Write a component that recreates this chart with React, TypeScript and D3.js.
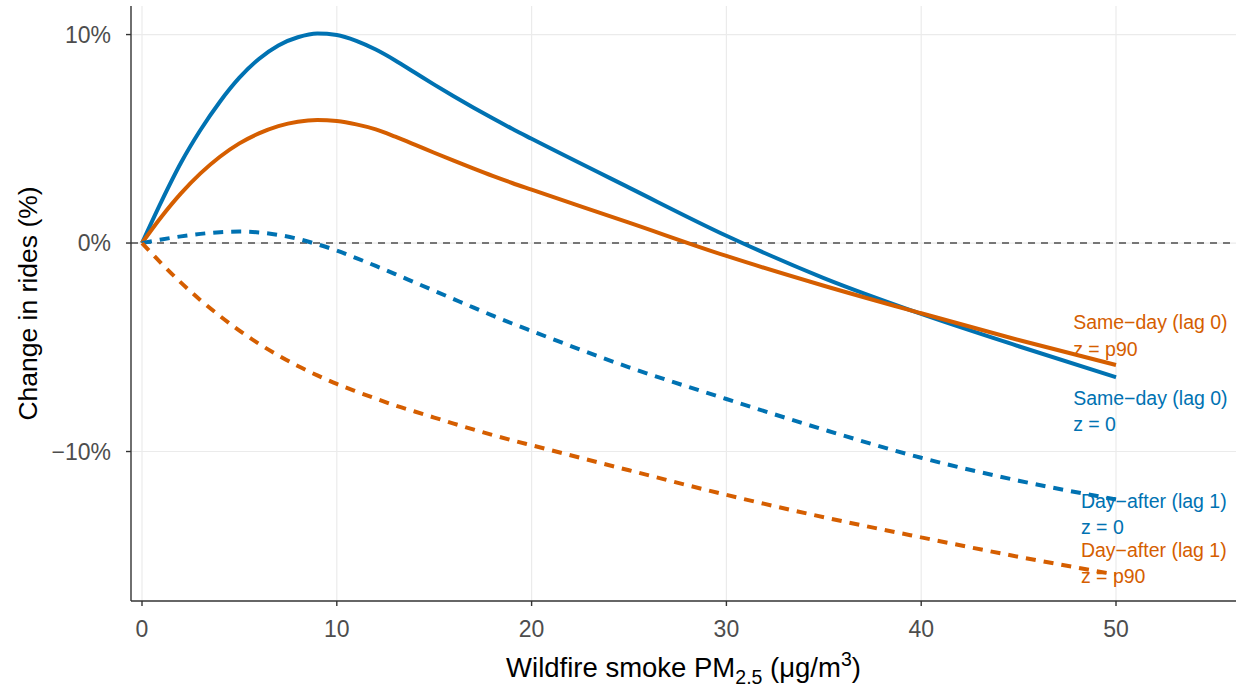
import React from "react";
import * as d3 from "d3";

// ---------- data ----------
const pm = [0, 1, 2, 3, 4, 5, 6, 7, 8, 9, 10, 11, 12, 13, 14, 15, 16, 17, 18, 19, 20, 25, 30, 35, 40, 45, 50];

const sameDayZ0 = [0, 2.0, 3.85, 5.42, 6.78, 7.93, 8.83, 9.48, 9.87, 10.05, 9.98, 9.7, 9.28, 8.76, 8.18, 7.6, 7.04, 6.5, 5.98, 5.48, 5.0, 2.66, 0.35, -1.68, -3.4, -4.95, -6.44];
const sameDayP90 = [0, 1.26, 2.38, 3.34, 4.14, 4.78, 5.26, 5.61, 5.82, 5.9, 5.85, 5.69, 5.45, 5.1, 4.72, 4.33, 3.95, 3.58, 3.22, 2.88, 2.56, 0.98, -0.62, -2.05, -3.37, -4.65, -5.85];
const dayAfterZ0 = [0, 0.17, 0.32, 0.44, 0.52, 0.55, 0.51, 0.39, 0.2, -0.06, -0.36, -0.72, -1.1, -1.49, -1.89, -2.29, -2.69, -3.09, -3.48, -3.86, -4.22, -5.96, -7.48, -8.95, -10.3, -11.4, -12.3];
const dayAfterP90 = [0, -0.98, -1.9, -2.74, -3.5, -4.2, -4.83, -5.39, -5.9, -6.35, -6.76, -7.12, -7.46, -7.79, -8.08, -8.37, -8.66, -8.94, -9.21, -9.46, -9.7, -10.9, -12.08, -13.15, -14.12, -15.05, -15.9];

const xTicks = [0, 10, 20, 30, 40, 50];
const yTicks = [10, 0, -10];
const yTickLabels = ["10%", "0%", "\u221210%"];

const seriesNames = ["Same-day z0", "Same-day p90", "Day-after z0", "Day-after p90"];
const seriesValues = [sameDayZ0, sameDayP90, dayAfterZ0, dayAfterP90];
const seriesColors = ["#0072B2", "#D55E00", "#0072B2", "#D55E00"];
const seriesDashed = [false, false, true, true];

// labels: line1, line2, colour, anchor x (PM), anchor y (%)
const labelLine1 = ["Same\u2212day (lag 0)", "Same\u2212day (lag 0)", "Day\u2212after (lag 1)", "Day\u2212after (lag 1)"];
const labelLine2 = ["z = p90", "z = 0", "z = 0", "z = p90"];
const labelColors = ["#D55E00", "#0072B2", "#0072B2", "#D55E00"];
const labelX = [47.8, 47.8, 48.2, 48.2];
const labelY = [-3.79, -7.43, -12.37, -14.72];

// ---------- layout ----------
const W = 1238;
const H = 688;
const left = 131;
const right = 1236;
const top = 6;
const bottom = 601;

const FONT = "'Liberation Sans', Arial, Helvetica, sans-serif";

export default function App() {
  const x = d3.scaleLinear().domain([-0.565, 56.16]).range([left, right]);
  const y = d3.scaleLinear().domain([-17.17, 11.37]).range([bottom, top]);

  const line = d3
    .line<number>()
    .x((_, i) => x(pm[i]))
    .y((d) => y(d))
    .curve(d3.curveMonotoneX);

  const lineSpacing = 26.5;

  return (
    <svg
      width={W}
      height={H}
      style={{ position: "absolute", left: 0, top: 0, background: "#fff" }}
      fontFamily={FONT}
    >
      {/* grid */}
      {xTicks.map((t) => (
        <line key={"gx" + t} x1={x(t)} x2={x(t)} y1={top} y2={bottom} stroke="#EBEBEB" strokeWidth={1.2} />
      ))}
      {yTicks.map((t) => (
        <line key={"gy" + t} x1={left} x2={right} y1={y(t)} y2={y(t)} stroke="#EBEBEB" strokeWidth={1.2} />
      ))}

      {/* zero reference */}
      <line x1={left} x2={right} y1={y(0)} y2={y(0)} stroke="#4D4D4D" strokeWidth={1.5} strokeDasharray="7 6" />

      {/* series */}
      {seriesValues.map((vals, i) => (
        <path
          key={seriesNames[i]}
          d={line(vals) || ""}
          fill="none"
          stroke={seriesColors[i]}
          strokeWidth={4}
          strokeDasharray={seriesDashed[i] ? "10 8" : undefined}
          strokeLinejoin="round"
        />
      ))}

      {/* labels */}
      {labelLine1.map((l1, i) => (
        <g key={"lab" + i} fill={labelColors[i]} fontSize={19.5}>
          <text x={x(labelX[i])} y={y(labelY[i])} dominantBaseline="central">
            {l1}
          </text>
          <text x={x(labelX[i])} y={y(labelY[i]) + lineSpacing} dominantBaseline="central">
            {labelLine2[i]}
          </text>
        </g>
      ))}

      {/* axes */}
      <line x1={left} x2={left} y1={top} y2={bottom} stroke="#333" strokeWidth={1.4} />
      <line x1={left} x2={right} y1={bottom} y2={bottom} stroke="#333" strokeWidth={1.4} />

      {yTicks.map((t, i) => (
        <g key={"yt" + t}>
          <line x1={left - 5} x2={left} y1={y(t)} y2={y(t)} stroke="#333" strokeWidth={1.4} />
          <text
            x={left - 20}
            y={y(t)}
            textAnchor="end"
            dominantBaseline="central"
            fontSize={23}
            fill="#4D4D4D"
          >
            {yTickLabels[i]}
          </text>
        </g>
      ))}
      {xTicks.map((t) => (
        <g key={"xt" + t}>
          <line x1={x(t)} x2={x(t)} y1={bottom} y2={bottom + 5} stroke="#333" strokeWidth={1.4} />
          <text x={x(t)} y={bottom + 36} textAnchor="middle" fontSize={23} fill="#4D4D4D">
            {t}
          </text>
        </g>
      ))}

      {/* axis titles */}
      <text x={(left + right) / 2} y={677} textAnchor="middle" fontSize={27.5} fill="#000">
        Wildfire smoke PM
        <tspan fontSize={19.5} dy={7}>2.5</tspan>
        <tspan dy={-7}> (μg/m</tspan>
        <tspan fontSize={19.5} dy={-11}>3</tspan>
        <tspan dy={11}>)</tspan>
      </text>
      <text
        transform={`translate(37, ${(top + bottom) / 2}) rotate(-90)`}
        textAnchor="middle"
        fontSize={26.5}
        fill="#000"
      >
        Change in rides (%)
      </text>
    </svg>
  );
}
